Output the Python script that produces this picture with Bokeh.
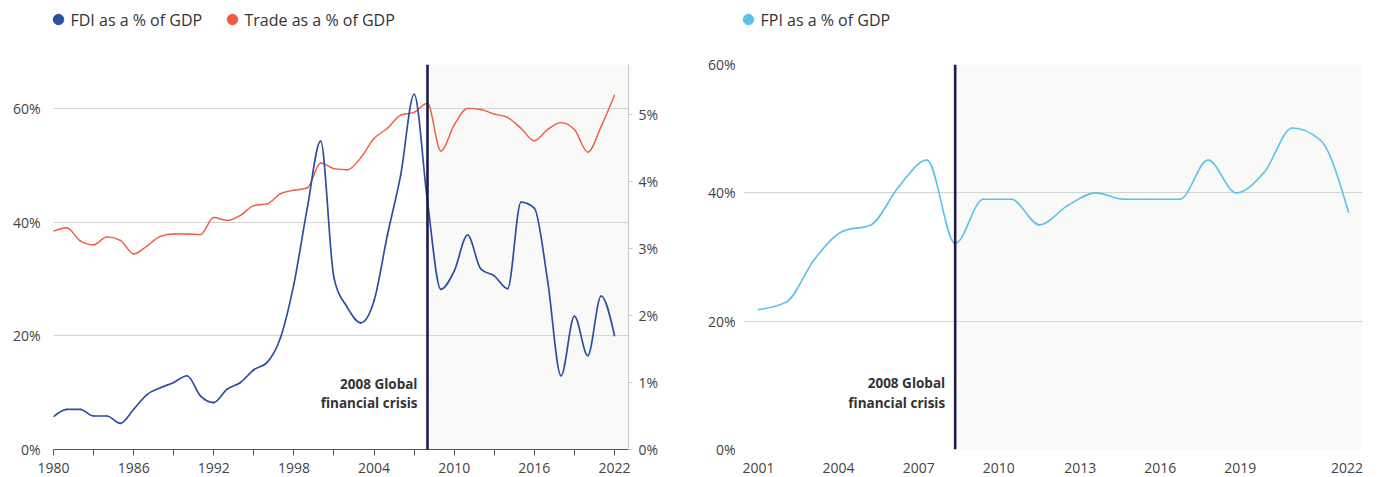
import numpy as np
from bokeh.plotting import figure
from bokeh.layouts import row, column
from bokeh.models import (Range1d, LinearAxis, FixedTicker, PrintfTickFormatter, Span,
                          BoxAnnotation, Label)
from bokeh.core.properties import value
from bokeh.embed import file_html
from bokeh.resources import INLINE

# ---------------- data ----------------
years_left = list(range(1980, 2023))
fdi_pct = [0.49, 0.60, 0.60, 0.50, 0.50, 0.39, 0.60, 0.82, 0.92, 1.00,
           1.10, 0.80, 0.70, 0.90, 1.00, 1.19, 1.30, 1.67, 2.47, 3.60,
           4.60, 2.56, 2.12, 1.89, 2.22, 3.20, 4.10, 5.30, 3.70, 2.39,
           2.66, 3.20, 2.69, 2.59, 2.40, 3.69, 3.60, 2.51, 1.10, 1.99,
           1.40, 2.29, 1.70]
trade_pct = [38.4, 39.0, 36.7, 36.0, 37.4, 36.8, 34.4, 35.8, 37.5, 37.9,
             37.9, 37.8, 40.8, 40.3, 41.2, 42.9, 43.2, 45.0, 45.6, 46.0,
             50.4, 49.4, 49.2, 51.3, 54.7, 56.5, 58.8, 59.3, 60.9, 52.5,
             57.1, 60.0, 59.8, 59.0, 58.4, 56.5, 54.3, 56.3, 57.5, 56.3,
             52.3, 56.8, 62.3]

years_right = list(range(2001, 2023))
fpi_pct = [21.8, 23.0, 29.7, 34.0, 35.0, 41.0, 45.1, 32.1, 39.0, 39.0,
           35.0, 38.0, 40.0, 39.0, 39.0, 39.0, 45.1, 40.0, 43.2, 50.1,
           48.2, 37.0]

crisis_year = 2008
crisis_lines = ["2008 Global", "financial crisis"]

left_legend_labels = ["FDI as a % of GDP", "Trade as a % of GDP"]
right_legend_labels = ["FPI as a % of GDP"]

left_xticks = list(range(1980, 2023, 3))
left_xlabel_years = list(range(1980, 2023, 6))
left_yticks = [0, 20, 40, 60]
fdi_ticks = [0, 1, 2, 3, 4, 5]

fpi_yticks = [0, 20, 40, 60]
fpi_xlabels = ["2001", "2004", "2007", "2010", "2013", "2016", "2019", "2022"]
fpi_xlabel_pos = [2001.0, 2003.85, 2006.7, 2009.55, 2012.45, 2015.3, 2018.15, 2021.95]

# ---------------- style ----------------
FONT = "Open Sans"
FDI_COLOR = "#2d4fa3"
TRADE_COLOR = "#f05a40"
FPI_COLOR = "#5cc2ec"
CRISIS_COLOR = "#1c1b4d"
SHADE = "#f9f9f7"
GRID = "#d4d4d4"
TICK_TEXT = "#444444"
TEXT = "#333333"

W1, W2 = 690, 691
LEG_H = 40
MAIN_H = 437


def monotone_bezier(xs, ys):
    xs = np.asarray(xs, dtype=float)
    ys = np.asarray(ys, dtype=float)
    n = len(xs)
    h = np.diff(xs)
    s = np.diff(ys) / h
    t = np.zeros(n)
    sgn = lambda v: -1.0 if v < 0 else 1.0
    for i in range(1, n - 1):
        s0, s1 = s[i - 1], s[i]
        h0, h1 = h[i - 1], h[i]
        pp = (s0 * h1 + s1 * h0) / (h0 + h1)
        t[i] = (sgn(s0) + sgn(s1)) * min(abs(s0), abs(s1), 0.5 * abs(pp))
    t[0] = (3 * s[0] - t[1]) / 2
    t[-1] = (3 * s[-1] - t[-2]) / 2
    x0 = xs[:-1]; x1 = xs[1:]
    y0 = ys[:-1]; y1 = ys[1:]
    dx = (x1 - x0) / 3
    return dict(x0=x0, y0=y0, x1=x1, y1=y1,
                cx0=x0 + dx, cy0=y0 + dx * t[:-1],
                cx1=x1 - dx, cy1=y1 - dx * t[1:])


def style_ticklabels(ax):
    ax.major_label_text_font = FONT
    ax.major_label_text_font_size = "14px"
    ax.major_label_text_color = TICK_TEXT
    ax.minor_tick_line_color = None


def legend_strip(width, dot_x, labels, colors):
    lp = figure(width=width, height=LEG_H, x_range=Range1d(0, width),
                y_range=Range1d(LEG_H, 0), output_backend="svg", toolbar_location=None,
                x_axis_type=None, y_axis_type=None, min_border=0,
                outline_line_color=None)
    lp.grid.visible = False
    ys = [19] * len(labels)
    lp.scatter(x=dot_x, y=ys, marker="circle", size=10.5, fill_color=colors,
               line_color=colors)
    lp.text(x=[x + 12 for x in dot_x], y=ys, text=labels, text_font=value(FONT),
            text_font_size=value("16px"), text_baseline="middle", text_align="left",
            text_color=TEXT)
    return lp


def add_crisis(p, y_hi, y_lo):
    p.add_layout(BoxAnnotation(left=crisis_year, fill_color=SHADE, fill_alpha=1,
                               line_color=None, level="image"))
    p.add_layout(Span(location=crisis_year, dimension="height",
                      line_color=CRISIS_COLOR, line_width=2.6))
    for txt, yy in zip(crisis_lines, [y_hi, y_lo]):
        p.add_layout(Label(x=crisis_year, y=yy, x_offset=-10, text=txt,
                           text_align="right", text_baseline="middle",
                           text_font=FONT, text_font_style="bold",
                           text_font_size="13.5px", text_color=TEXT))


def bez(p, xs, ys, color, width, **kw):
    src = monotone_bezier(xs, ys)
    p.bezier(source=src, x0="x0", y0="y0", x1="x1", y1="y1", cx0="cx0", cy0="cy0",
             cx1="cx1", cy1="cy1", line_color=color, line_width=width,
             line_cap="round", **kw)


# ---------------- left chart ----------------
p1 = figure(width=W1, height=MAIN_H, x_range=Range1d(1980, 2023.05),
            y_range=Range1d(0, 67.72), output_backend="svg", toolbar_location=None,
            min_border_left=53, min_border_right=62, min_border_top=23,
            min_border_bottom=28, outline_line_color=None)
p1.extra_y_ranges = {"fdi": Range1d(0, 5.744)}

p1.xgrid.visible = False
p1.ygrid.ticker = FixedTicker(ticks=[t for t in left_yticks if t > 0])
p1.ygrid.grid_line_color = GRID

xa = p1.xaxis[0]
xa.ticker = FixedTicker(ticks=left_xticks)
xa.major_label_overrides = {y: (str(y) if y in left_xlabel_years else "") for y in left_xticks}
xa.axis_line_color = "#555555"
xa.major_tick_line_color = "#555555"
xa.major_tick_out = 6
xa.major_tick_in = 0
xa.major_label_standoff = 7
style_ticklabels(xa)

ya = p1.yaxis[0]
ya.ticker = FixedTicker(ticks=left_yticks)
ya.formatter = PrintfTickFormatter(format="%d%%")
ya.axis_line_color = None
ya.major_tick_line_color = None
ya.major_tick_out = 0
ya.major_tick_in = 0
ya.major_label_standoff = 13
style_ticklabels(ya)

ra = LinearAxis(y_range_name="fdi", ticker=FixedTicker(ticks=fdi_ticks),
                formatter=PrintfTickFormatter(format="%d%%"))
ra.axis_line_color = "#c8c8c8"
ra.major_tick_line_color = "#c8c8c8"
ra.major_tick_out = 4
ra.major_tick_in = 0
ra.major_label_standoff = 6
style_ticklabels(ra)
p1.add_layout(ra, "right")

add_crisis(p1, 11.6, 8.2)

bez(p1, years_left, trade_pct, TRADE_COLOR, 1.4)
bez(p1, years_left, fdi_pct, FDI_COLOR, 1.7, y_range_name="fdi")

# ---------------- right chart ----------------
p2 = figure(width=W2, height=MAIN_H, x_range=Range1d(2000.466, 2022.498),
            y_range=Range1d(0, 60), output_backend="svg", toolbar_location=None,
            min_border_left=53, min_border_right=19, min_border_top=24,
            min_border_bottom=28, outline_line_color=None)
p2.xgrid.visible = False
p2.ygrid.ticker = FixedTicker(ticks=fpi_yticks)
p2.ygrid.grid_line_color = GRID

xb = p2.xaxis[0]
xb.ticker = FixedTicker(ticks=fpi_xlabel_pos)
xb.major_label_overrides = {pos: lab for pos, lab in zip(fpi_xlabel_pos, fpi_xlabels)}
xb.axis_line_color = None
xb.major_tick_line_color = None
xb.major_tick_out = 0
xb.major_tick_in = 0
xb.major_label_standoff = 13
style_ticklabels(xb)

yb = p2.yaxis[0]
yb.ticker = FixedTicker(ticks=fpi_yticks)
yb.formatter = PrintfTickFormatter(format="%d%%")
yb.axis_line_color = None
yb.major_tick_line_color = None
yb.major_tick_out = 0
yb.major_tick_in = 0
yb.major_label_standoff = 8
style_ticklabels(yb)

add_crisis(p2, 10.3, 7.3)

bez(p2, years_right, fpi_pct, FPI_COLOR, 1.6)

# ---------------- legends ----------------
leg1 = legend_strip(W1, [58, 232], left_legend_labels, [FDI_COLOR, TRADE_COLOR])
leg2 = legend_strip(W2, [748 - W1], right_legend_labels, [FPI_COLOR])

layout = column(row(leg1, leg2, spacing=0), row(p1, p2, spacing=0), spacing=0)
open("out.html", "w").write(file_html(layout, INLINE))
